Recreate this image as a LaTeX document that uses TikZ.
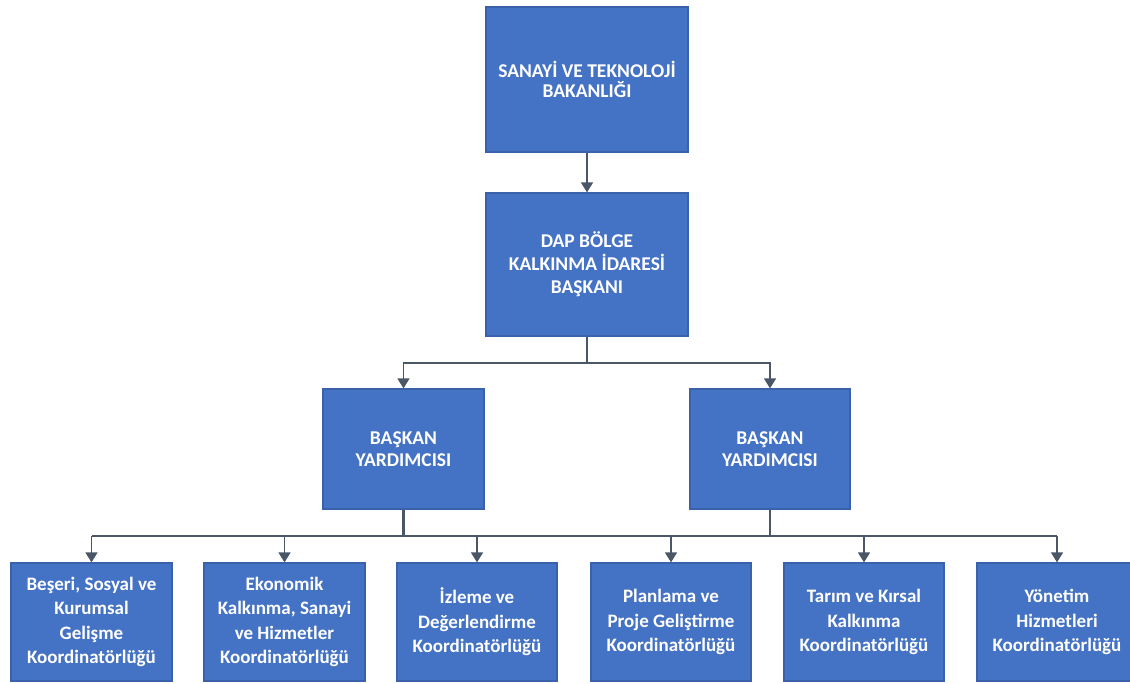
\documentclass[tikz,border=0pt]{standalone}
\usepackage{fontspec}
\setmainfont{Carlito}
\usetikzlibrary{arrows.meta}
\definecolor{boxfill}{HTML}{4472C4}
\definecolor{boxline}{HTML}{3A62AA}
\definecolor{conncol}{HTML}{4A5767}
\tikzset{
  orgbox/.style={draw=boxline, line width=1.2pt, fill=boxfill, text=white, align=center, inner sep=0pt, font=\bfseries\fontsize{19}{24.5}\selectfont},
  conn/.style={draw=conncol, line width=1.4pt},
  stem/.style={draw=conncol, line width=2.6pt},
  arr/.style={conn, -{Triangle[width=12pt,length=10pt]}}
}
\begin{document}
\begin{tikzpicture}[x=1pt,y=-1pt]
\useasboundingbox (0,0) rectangle (1130,684);
\clip (0,0) rectangle (1130,684);
\node[orgbox, minimum width=202pt, minimum height=145pt, font=\bfseries\fontsize{19.5}{20.5}\selectfont] (top) at (587,79.5) {SANAYİ VE TEKNOLOJİ\\BAKANLIĞI};
\node[orgbox, minimum width=202pt, minimum height=143pt, font=\bfseries\fontsize{19.5}{23}\selectfont] (dap) at (587,264.5) {DAP BÖLGE\\KALKINMA İDARESİ\\BAŞKANI};
\node[orgbox, minimum width=161pt, minimum height=120pt, font=\bfseries\fontsize{19.5}{22}\selectfont] (vpa) at (403.5,449) {BAŞKAN\\YARDIMCISI};
\node[orgbox, minimum width=160pt, minimum height=120pt, font=\bfseries\fontsize{19.5}{22}\selectfont] (vpb) at (770,449) {BAŞKAN\\YARDIMCISI};
\node[orgbox, minimum width=161pt, minimum height=118pt] (b1) at (91.5,622) {Beşeri, Sosyal ve\\Kurumsal\\Gelişme\\Koordinatörlüğü};
\node[orgbox, minimum width=161pt, minimum height=118pt] (b2) at (284.5,622) {Ekonomik\\Kalkınma, Sanayi\\ve Hizmetler\\Koordinatörlüğü};
\node[orgbox, minimum width=160pt, minimum height=118pt] (b3) at (477,622) {İzleme ve\\Değerlendirme\\Koordinatörlüğü};
\node[orgbox, minimum width=160pt, minimum height=118pt] (b4) at (671,622) {Planlama ve\\Proje Geliştirme\\Koordinatörlüğü};
\node[orgbox, minimum width=160pt, minimum height=118pt] (b5) at (864,622) {Tarım ve Kırsal\\Kalkınma\\Koordinatörlüğü};
\node[orgbox, minimum width=160pt, minimum height=118pt] (b6) at (1057,622) {Yönetim\\Hizmetleri\\Koordinatörlüğü};
\coordinate (j1) at (587,363);
\coordinate (hy) at (0,536);
\draw[arr] (top.south) -- (dap.north);
\draw[conn] (dap.south) -- (j1);
\draw[arr] (j1) -| (vpa.north);
\draw[arr] (j1) -| (vpb.north);
\draw[conn] (b1.north |- hy) -- (b6.north |- hy);
\draw[stem] (vpa.south) -- (vpa.south |- hy);
\draw[stem] (vpb.south) -- (vpb.south |- hy);
\foreach \b in {b1,b2,b3,b4,b5,b6}{
  \draw[arr] (\b.north |- hy) -- (\b.north);
}
\end{tikzpicture}
\end{document}
